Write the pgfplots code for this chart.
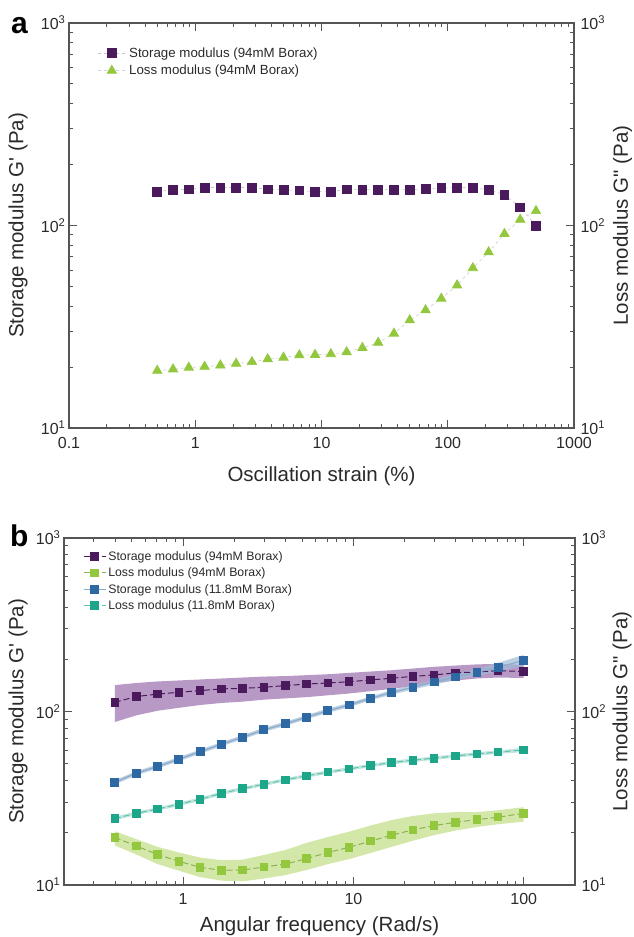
\documentclass[border=0pt]{standalone}
\usepackage{fontspec}
\setmainfont{Liberation Sans}
\usepackage{pgfplots}
\pgfplotsset{compat=1.18}

\definecolor{gpurple}{HTML}{4A1A5C}
\definecolor{gpurpleband}{HTML}{A67FB8}
\definecolor{ggreen}{HTML}{93C83E}
\definecolor{ggreenband}{HTML}{CBE39A}
\definecolor{gblue}{HTML}{2E69A3}
\definecolor{gteal}{HTML}{1DA68A}
\definecolor{gframe}{HTML}{555555}
\definecolor{gtext}{HTML}{2A2A2A}

\newcommand{\tickfont}{\fontsize{16}{18}\selectfont}
\newcommand{\labfont}{\fontsize{20.5}{24}\selectfont}

\begin{document}
\begin{tikzpicture}
\useasboundingbox (0pt,0pt) rectangle (634pt,-937pt);

% ---------------- panel a: strain sweep ----------------
\begin{axis}[
  scale only axis, xmode=log, ymode=log,
  at={(69pt,-23pt)}, anchor=north west, width=505pt, height=405pt,
  xmin=0.1, xmax=1000, ymin=10, ymax=1000,
  axis line style={gframe, line width=1.6pt},
  major tick style={gframe, line width=1pt},
  minor tick style={gframe, line width=1pt},
  major tick length=8pt, minor tick length=4.5pt, tick align=inside,
  xtick={0.1,1,10,100,1000}, xticklabels={0.1,1,10,100,1000},
  minor xtick={0.2,0.3,0.4,0.5,0.6,0.7,0.8,0.9,2,3,4,5,6,7,8,9,20,30,40,50,60,70,80,90,200,300,400,500,600,700,800,900},
  ytick={10,100,1000},
  yticklabels={10\textsuperscript{1},10\textsuperscript{2},10\textsuperscript{3}},
  minor ytick={20,30,40,50,60,70,80,90,200,300,400,500,600,700,800,900},
  xticklabel style={font=\tickfont, text=gtext, yshift=-6pt},
  yticklabel style={font=\tickfont, text=gtext},
  xlabel={Oscillation strain (\%)},
  ylabel={Storage modulus G\textquotesingle\ (Pa)},
  xlabel style={font=\labfont, text=gtext, at={(axis description cs:0.5,-0.118)}, anchor=center},
  ylabel style={font=\labfont, text=gtext, at={(axis description cs:-0.101,0.5)}, anchor=center},
  legend cell align=left,
  legend image code/.code={\draw[mark repeat=2,mark phase=2,#1]
      plot coordinates {(0pt,0pt) (14pt,0pt) (28pt,0pt)};},
  legend style={draw=none, fill=none, font=\fontsize{13.3}{15}\selectfont,
    at={(axis description cs:0.056,0.945)}, anchor=north west,
    inner sep=0pt, row sep=2.5pt, text=gtext,
    nodes={inner xsep=3pt}},
]
\addplot[draw=gray!45, dashed, line width=0.7pt,
  mark=square*, mark size=4.4pt, mark options={solid, fill=gpurple, draw=gpurple}]
  coordinates {
  (0.5,147) (0.667,150) (0.889,151) (1.186,154) (1.581,154) (2.108,154)
  (2.812,154) (3.75,151) (5.0,150) (6.67,149) (8.89,147) (11.86,147)
  (15.81,151) (21.08,150) (28.12,150) (37.5,150) (50,150) (66.7,152)
  (88.9,153) (118.6,154) (158.1,154) (210.8,150) (281.2,142) (375,123) (500,100)
  };
\addlegendentry{Storage modulus (94mM Borax)}
\addplot[draw=gray!35, dashed, line width=0.7pt,
  mark=triangle*, mark size=5.4pt, mark options={solid, fill=ggreen, draw=ggreen}]
  coordinates {
  (0.5,19.2) (0.667,19.5) (0.889,19.9) (1.186,20.1) (1.581,20.4) (2.108,20.8)
  (2.812,21.2) (3.75,21.9) (5.0,22.3) (6.67,22.9) (8.89,23.0) (11.86,23.2)
  (15.81,23.7) (21.08,24.9) (28.12,26.4) (37.5,29.3) (50,34.1) (66.7,38.2)
  (88.9,43.6) (118.6,50.7) (158.1,61.7) (210.8,73.9) (281.2,91.0) (375,107) (500,118)
  };
\addlegendentry{Loss modulus (94mM Borax)}
\end{axis}
\begin{axis}[
  scale only axis, xmode=log, ymode=log,
  at={(69pt,-23pt)}, anchor=north west, width=505pt, height=405pt,
  xmin=0.1, xmax=1000, ymin=10, ymax=1000,
  axis x line=none, axis y line*=right, axis line style={draw=none},
  major tick length=0pt, minor tick length=0pt,
  ytick={10,100,1000},
  yticklabels={10\textsuperscript{1},10\textsuperscript{2},10\textsuperscript{3}},
  yticklabel style={font=\tickfont, text=gtext, xshift=3pt},
  ylabel={Loss modulus G\textquotedbl\ (Pa)},
  ylabel style={font=\labfont, text=gtext, at={(axis description cs:1.096,0.5)}, anchor=center},
]
\end{axis}

% ---------------- panel b: frequency sweep ----------------
\begin{axis}[
  scale only axis, xmode=log, ymode=log,
  at={(64pt,-538pt)}, anchor=north west, width=511pt, height=347pt,
  xmin=0.2, xmax=200, ymin=10, ymax=1000,
  axis line style={gframe, line width=1.6pt},
  major tick style={gframe, line width=1pt},
  minor tick style={gframe, line width=1pt},
  major tick length=8pt, minor tick length=4.5pt, tick align=inside,
  xtick={1,10,100}, xticklabels={1,10,100},
  minor xtick={0.3,0.4,0.5,0.6,0.7,0.8,0.9,2,3,4,5,6,7,8,9,20,30,40,50,60,70,80,90},
  ytick={10,100,1000},
  yticklabels={10\textsuperscript{1},10\textsuperscript{2},10\textsuperscript{3}},
  minor ytick={20,30,40,50,60,70,80,90,200,300,400,500,600,700,800,900},
  xticklabel style={font=\tickfont, text=gtext, yshift=-5pt},
  yticklabel style={font=\tickfont, text=gtext},
  xlabel={Angular frequency (Rad/s)},
  ylabel={Storage modulus G\textquotesingle\ (Pa)},
  xlabel style={font=\labfont, text=gtext, at={(axis description cs:0.5,-0.118)}, anchor=center},
  ylabel style={font=\labfont, text=gtext, at={(axis description cs:-0.09,0.5)}, anchor=center},
  legend cell align=left,
  legend image code/.code={\draw[mark repeat=2,mark phase=2,#1]
      plot coordinates {(0pt,0pt) (11pt,0pt) (22pt,0pt)};},
  legend style={draw=none, fill=none, font=\fontsize{12.3}{14}\selectfont,
    at={(axis description cs:0.037,0.968)}, anchor=north west,
    inner sep=0pt, row sep=2pt, text=gtext},
]
% shaded bands
\addplot[fill=gpurpleband, fill opacity=0.8, draw=none, forget plot] coordinates {
  (0.398,142) (0.531,146) (0.708,149) (0.944,151) (1.26,153) (1.68,155)
  (2.24,157) (2.98,159) (3.98,160) (5.31,162) (7.08,164) (9.44,167)
  (12.6,170) (16.8,173) (22.4,177) (29.8,181) (39.8,184) (53.1,187)
  (70.8,188) (100,186)
  (100,156) (70.8,157) (53.1,155) (39.8,151) (29.8,146) (22.4,140)
  (16.8,135) (12.6,131) (9.44,127) (7.08,124) (5.31,121) (3.98,119)
  (2.98,117) (2.24,114) (1.68,112) (1.26,109) (0.944,105) (0.708,101)
  (0.531,95) (0.398,87)
  } -- cycle;
\addplot[fill=ggreenband, fill opacity=0.85, draw=none, forget plot] coordinates {
  (0.398,20.4) (0.531,18.4) (0.708,16.6) (0.944,15.4) (1.26,14.4) (1.68,13.9)
  (2.24,14.0) (2.98,14.9) (3.98,15.9) (5.31,17.5) (7.08,18.9) (9.44,20.3)
  (12.6,22.0) (16.8,23.7) (22.4,25.0) (29.8,25.9) (39.8,26.3) (53.1,26.3)
  (70.8,27.0) (100,28.1)
  (100,23.2) (70.8,22.4) (53.1,21.6) (39.8,20.6) (29.8,19.4) (22.4,18.0)
  (16.8,16.6) (12.6,15.3) (9.44,14.1) (7.08,13.2) (5.31,12.2) (3.98,11.4)
  (2.98,10.9) (2.24,10.5) (1.68,10.6) (1.26,11.1) (0.944,12.1) (0.708,13.2)
  (0.531,15.0) (0.398,16.9)
  } -- cycle;
\addplot[fill=gblue!45, fill opacity=0.7, draw=none, forget plot] coordinates {
  (0.398,40.2) (0.531,45.3) (0.708,49.5) (0.944,54.6) (1.26,60.3) (1.68,66.6)
  (2.24,73.1) (2.98,80.6) (3.98,87.3) (5.31,95.4) (7.08,104) (9.44,112)
  (12.6,122) (16.8,133) (22.4,142) (29.8,153) (39.8,164) (53.1,176)
  (70.8,191) (100,212)
  (100,183) (70.8,170) (53.1,161) (39.8,152) (29.8,143) (22.4,134)
  (16.8,125) (12.6,116) (9.44,106) (7.08,98.3) (5.31,90.3) (3.98,82.6)
  (2.98,76.3) (2.24,69.2) (1.68,63.0) (1.26,57.1) (0.944,51.7) (0.708,46.9)
  (0.531,42.9) (0.398,38.0)
  } -- cycle;
\addplot[fill=gteal!40, fill opacity=0.7, draw=none, forget plot] coordinates {
  (0.398,24.8) (0.531,26.5) (0.708,28.0) (0.944,29.9) (1.26,31.9) (1.68,34.6)
  (2.24,36.7) (2.98,39.0) (3.98,41.3) (5.31,43.6) (7.08,45.7) (9.44,47.8)
  (12.6,49.9) (16.8,52.0) (22.4,53.6) (29.8,55.0) (39.8,56.8) (53.1,58.3)
  (70.8,59.6) (100,61.8)
  (100,58.4) (70.8,57.0) (53.1,55.7) (39.8,54.2) (29.8,52.6) (22.4,51.2)
  (16.8,49.6) (12.6,47.7) (9.44,45.7) (7.08,43.7) (5.31,41.6) (3.98,39.5)
  (2.98,37.2) (2.24,35.1) (1.68,33.0) (1.26,30.5) (0.944,28.5) (0.708,26.8)
  (0.531,25.3) (0.398,23.6)
  } -- cycle;
% series
\addplot[draw=gpurple, dash pattern=on 6pt off 3pt, line width=1pt,
  mark=square*, mark size=3.8pt, mark options={solid, fill=gpurple, draw=gpurple}]
  coordinates {
  (0.398,113) (0.531,122) (0.708,126) (0.944,129) (1.26,132) (1.68,135)
  (2.24,136) (2.98,138) (3.98,141) (5.31,144) (7.08,146) (9.44,148.5)
  (12.6,152) (16.8,155.5) (22.4,159.5) (29.8,162.5) (39.8,167) (53.1,169)
  (70.8,172) (100,170)
  };
\addlegendentry{Storage modulus (94mM Borax)}
\addplot[draw=ggreen!70!gray, dash pattern=on 6pt off 3pt, line width=1pt,
  mark=square*, mark size=3.8pt, mark options={solid, fill=ggreen, draw=ggreen}]
  coordinates {
  (0.398,18.8) (0.531,16.8) (0.708,15.0) (0.944,13.7) (1.26,12.65) (1.68,12.15)
  (2.24,12.2) (2.98,12.7) (3.98,13.2) (5.31,14.2) (7.08,15.4) (9.44,16.5)
  (12.6,17.9) (16.8,19.4) (22.4,20.8) (29.8,22.0) (39.8,23.0) (53.1,23.8)
  (70.8,24.6) (100,25.9)
  };
\addlegendentry{Loss modulus (94mM Borax)}
\addplot[draw=gblue!55, line width=1.2pt,
  mark=square*, mark size=3.8pt, mark options={solid, fill=gblue, draw=gblue}]
  coordinates {
  (0.398,39.1) (0.531,44.1) (0.708,48.2) (0.944,53.1) (1.26,58.7) (1.68,64.8)
  (2.24,71.1) (2.98,78.4) (3.98,84.9) (5.31,92.8) (7.08,101) (9.44,109)
  (12.6,119) (16.8,129) (22.4,138) (29.8,148) (39.8,158) (53.1,168)
  (70.8,180) (100,197)
  };
\addlegendentry{Storage modulus (11.8mM Borax)}
\addplot[draw=gteal!70, dash pattern=on 6pt off 3pt, line width=1pt,
  mark=square*, mark size=3.8pt, mark options={solid, fill=gteal, draw=gteal}]
  coordinates {
  (0.398,24.2) (0.531,25.9) (0.708,27.4) (0.944,29.2) (1.26,31.2) (1.68,33.8)
  (2.24,35.9) (2.98,38.1) (3.98,40.4) (5.31,42.6) (7.08,44.7) (9.44,46.7)
  (12.6,48.8) (16.8,50.8) (22.4,52.4) (29.8,53.8) (39.8,55.5) (53.1,57.0)
  (70.8,58.3) (100,60.1)
  };
\addlegendentry{Loss modulus (11.8mM Borax)}
\end{axis}
\begin{axis}[
  scale only axis, xmode=log, ymode=log,
  at={(64pt,-538pt)}, anchor=north west, width=511pt, height=347pt,
  xmin=0.2, xmax=200, ymin=10, ymax=1000,
  axis x line=none, axis y line*=right, axis line style={draw=none},
  major tick length=0pt, minor tick length=0pt,
  ytick={10,100,1000},
  yticklabels={10\textsuperscript{1},10\textsuperscript{2},10\textsuperscript{3}},
  yticklabel style={font=\tickfont, text=gtext, xshift=3pt},
  ylabel={Loss modulus G\textquotedbl\ (Pa)},
  ylabel style={font=\labfont, text=gtext, at={(axis description cs:1.092,0.5)}, anchor=center},
]
\end{axis}

% panel letters
\node[anchor=base west, font=\fontsize{30}{32}\selectfont\bfseries, inner sep=0pt]
  at (11pt,-33pt) {a};
\node[anchor=base west, font=\fontsize{30}{32}\selectfont\bfseries, inner sep=0pt]
  at (10pt,-546pt) {b};
\end{tikzpicture}
\end{document}
